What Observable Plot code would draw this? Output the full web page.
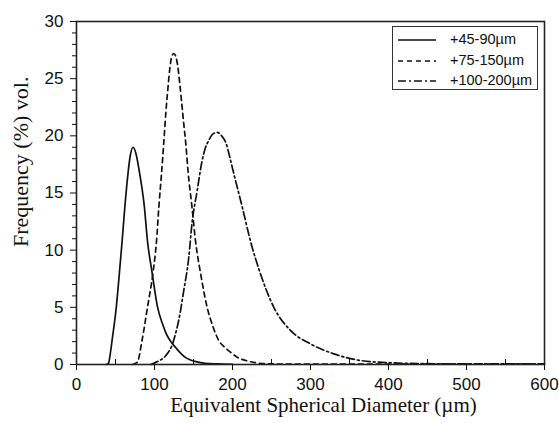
<!DOCTYPE html>
<html><head><meta charset="utf-8">
<script src="https://cdn.jsdelivr.net/npm/d3@7"></script>
<script src="https://cdn.jsdelivr.net/npm/@observablehq/plot@0.6"></script>
<style>
body{margin:0;background:#fff;}
#wrap{position:relative;width:559px;height:423px;overflow:hidden;}
#legend{position:absolute;left:392px;top:26px;width:146px;height:64px;border:1.5px solid #333;box-sizing:border-box;background:#fff;font-family:"Liberation Sans",Arial,sans-serif;font-size:14.5px;color:#111;}
.lrow{position:absolute;left:0;height:16px;width:140px;}
.lrow svg{position:absolute;left:4px;top:0;}
.lrow span{position:absolute;left:57px;top:-1px;line-height:16px;white-space:nowrap;}
</style></head><body><div id="wrap"></div>
<script>
const seriesNames = ["+45-90µm", "+75-150µm", "+100-200µm"];
const seriesDash = [null, "5,4", "8,3,2,3"];

// +45-90µm (solid)
const sizesA = [38, 41, 43, 46, 51, 55, 58.5, 62, 66, 69, 72.6, 76, 81, 87, 91, 97, 104, 110, 115, 121, 127, 134, 140, 146, 153, 165, 180, 200];
const freqA  = [0, 0.1, 0.8, 2.3, 5.0, 8.0, 10.8, 13.8, 16.7, 18.3, 19.0, 18.5, 16.7, 13.8, 10.8, 8.0, 5.0, 3.6, 2.7, 2.0, 1.5, 0.95, 0.6, 0.4, 0.25, 0.1, 0.05, 0.02];

// +75-150µm (dashed)
const sizesB = [72, 78, 84, 91, 98, 102.6, 105.6, 109, 112, 114.5, 117, 119.5, 122, 124.8, 127.5, 130, 132.5, 135, 137.6, 140, 143, 148, 152.6, 159, 167.5, 175, 182.4, 190, 197, 207, 217, 230, 250, 300, 600];
const freqB  = [0, 0.2, 2.1, 5.0, 8.0, 10.8, 13.8, 16.7, 19.5, 22.0, 24.0, 25.8, 26.9, 27.2, 26.9, 26.0, 24.5, 22.8, 21.0, 19.4, 16.9, 13.8, 10.8, 8.0, 5.0, 3.3, 2.1, 1.5, 1.1, 0.6, 0.35, 0.15, 0.05, 0.03, 0.03];

// +100-200µm (dash-dot)
const sizesC = [95, 99, 105, 112, 117, 122.6, 127, 131, 137.6, 144, 148, 154.7, 161, 165, 169.6, 174, 180.4, 186, 192, 197, 202, 212.4, 223, 236, 253, 274, 300, 330, 364, 402.6, 450, 500, 600];
const freqC  = [0, 0.1, 0.3, 0.6, 1.0, 1.7, 2.7, 3.85, 6.5, 9.4, 12.3, 15.2, 17.8, 18.9, 19.6, 20.1, 20.3, 20.0, 19.3, 18.0, 16.6, 13.8, 10.8, 7.9, 5.0, 3.0, 1.8, 0.93, 0.35, 0.15, 0.07, 0.05, 0.05];

const xTicks = [0, 100, 200, 300, 400, 500, 600];
const xMinor = [50, 150, 250, 350, 450, 550];
const yTicks = [0, 5, 10, 15, 20, 25, 30];
const yMinor = d3.range(0, 31).filter(v => v % 5 !== 0);
const xTitle = "Equivalent Spherical Diameter (µm)";
const yTitle = "Frequency (%) vol.";

const toRows = (xs, ys) => xs.map((x, i) => ({size: x, freq: ys[i]}));
const rowsA = toRows(sizesA, freqA);
const rowsB = toRows(sizesB, freqB);
const rowsC = toRows(sizesC, freqC);

const lineOpts = {x: "size", y: "freq", stroke: "#111", strokeWidth: 1.7, curve: "monotone-x"};

const chart = Plot.plot({
  width: 559, height: 423,
  marginLeft: 76, marginRight: 15, marginTop: 21, marginBottom: 59,
  x: {domain: [0, 600]},
  y: {domain: [0, 30]},
  style: {fontFamily: "'Liberation Sans', Arial, sans-serif", fontSize: "17px", color: "#111", background: "white"},
  marks: [
    Plot.line(rowsA, {...lineOpts}),
    Plot.line(rowsB, {...lineOpts, strokeDasharray: seriesDash[1]}),
    Plot.line(rowsC, {...lineOpts, strokeDasharray: seriesDash[2]}),
    Plot.frame({stroke: "#222", strokeWidth: 1.6}),
    Plot.axisX({ticks: xTicks, tickSize: 6, tickPadding: 7, label: null, fontSize: 17, tickFormat: d => String(d)}),
    Plot.axisX({ticks: xMinor, tickSize: 5, dy: -5, text: null, label: null}),
    Plot.axisY({ticks: yTicks, tickSize: 6, tickPadding: 7, label: null, fontSize: 17, tickFormat: d => String(d)}),
    Plot.axisY({ticks: yMinor, tickSize: 4, text: null, label: null}),
    Plot.text([xTitle], {text: d => d, frameAnchor: "bottom", dx: 13, dy: 47, lineAnchor: "bottom", fontFamily: "'Liberation Serif', 'Times New Roman', serif", fontSize: 21, fill: "#111"}),
    Plot.text([yTitle], {text: d => d, frameAnchor: "left", rotate: -90, dx: -56, dy: 54, lineAnchor: "middle", fontFamily: "'Liberation Serif', 'Times New Roman', serif", fontSize: 22, fill: "#111"})
  ]
});

const wrap = document.getElementById("wrap");
wrap.appendChild(chart);

const legend = document.createElement("div");
legend.id = "legend";
seriesNames.forEach((name, i) => {
  const row = document.createElement("div");
  row.className = "lrow";
  row.style.top = (5 + i * 20.5) + "px";
  const dash = seriesDash[i] ? ` stroke-dasharray="${seriesDash[i]}"` : "";
  row.innerHTML = `<svg width="40" height="16"><line x1="1" x2="39" y1="8" y2="8" stroke="#111" stroke-width="1.5"${dash}/></svg><span>${name}</span>`;
  legend.appendChild(row);
});
wrap.appendChild(legend);
</script>
</body></html>
